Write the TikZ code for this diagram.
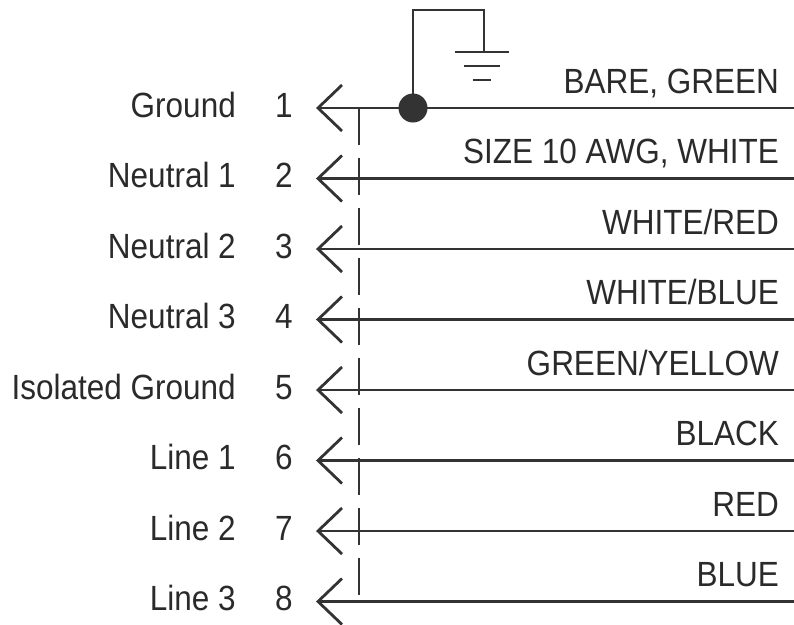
\documentclass[tikz,border=0pt]{standalone}
\usepackage{fontspec}
\setmainfont{Liberation Sans}[FakeStretch=0.9]
\usetikzlibrary{positioning}

\definecolor{ink}{HTML}{333333}
\definecolor{txt}{HTML}{2A2A2A}

\tikzset{
  wire/.style={line width=2.8pt, draw=ink},
  lbl/.style={font=\fontsize{35}{40}\selectfont, text=txt, inner sep=0pt}
}

\begin{document}
\begin{tikzpicture}[x=1pt,y=-1pt]
\useasboundingbox (0,0) rectangle (794,624);

% conductors
\foreach \i/\name/\colour in {1/Ground/{BARE, GREEN},2/Neutral 1/{SIZE 10 AWG, WHITE},
  3/Neutral 2/{WHITE/RED},4/Neutral 3/{WHITE/BLUE},5/Isolated Ground/{GREEN/YELLOW},
  6/Line 1/BLACK,7/Line 2/RED,8/Line 3/BLUE}
{
\pgfmathsetmacro{\y}{108+70.5*(\i-1)}
\coordinate (tip\i) at (318,\y);
\coordinate (end\i) at (794,\y);
\draw[wire] (end\i) -- (tip\i);
\draw[wire] ([shift={(24,-23)}]tip\i) -- (tip\i) -- ([shift={(24,23)}]tip\i);
\node[lbl,anchor=base] (num\i) at (284,\y+9) {\i};
\node[lbl,anchor=base east] (name\i) at (236,\y+9) {\name};
\node[lbl,anchor=base east] (col\i) at (779,\y-15) {\colour};
}

% shield
\coordinate (shtop) at (359,108);
\coordinate (shbot) at (359,595);
\draw[wire, dash pattern=on 37pt off 13pt] (shtop) -- (shbot);

% earth
\node[circle, fill=ink, minimum size=29pt, inner sep=0pt] (dot) at (413,108) {};
\coordinate (gnd) at (484,52);
\draw[wire] (dot.center) -- (413,10) -| (gnd);
\draw[wire] ([xshift=-29]gnd) -- ([xshift=25]gnd);
\draw[wire] ([shift={(-20,14)}]gnd) -- ([shift={(16,14)}]gnd);
\draw[wire] ([shift={(-11,28)}]gnd) -- ([shift={(7,28)}]gnd);
\end{tikzpicture}
\end{document}
